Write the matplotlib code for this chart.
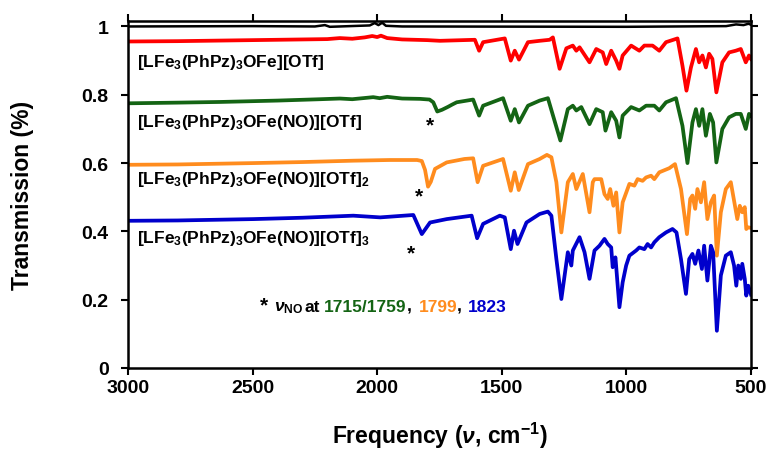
import matplotlib
matplotlib.use("Agg")
import matplotlib.pyplot as plt

plt.rcParams["font.family"] = ["Liberation Sans", "DejaVu Sans"]
plt.rcParams["font.weight"] = "bold"
plt.rcParams["mathtext.fontset"] = "custom"
plt.rcParams["mathtext.rm"] = "Liberation Sans:bold"
plt.rcParams["mathtext.bf"] = "Liberation Sans:bold"
plt.rcParams["mathtext.it"] = "Liberation Sans:italic:bold"
plt.rcParams["mathtext.default"] = "rm"

# spectra: wavenumber (cm-1) and transmission
black_v = [3000, 2500, 2250, 2210, 2190, 2030, 2010, 1995, 1980, 1965, 1900, 1000, 600, 560, 530, 510, 500]
black_t = [1.000, 1.001, 1.000, 1.004, 0.999, 1.003, 1.010, 1.004, 1.011, 1.002, 1.000, 0.999, 1.001, 1.006, 1.004, 1.008, 1.005]

red_v = [3000, 2800, 2600, 2400, 2200, 2150, 2100, 2050, 2020, 2000, 1985, 1960, 1900, 1800, 1748,
         1608, 1591, 1575, 1488, 1464, 1448, 1431, 1395, 1348, 1308, 1295, 1268, 1241, 1215, 1201,
         1188, 1148, 1121, 1095, 1081, 1061, 1041, 1028, 1015, 981, 948, 928, 895, 868, 841, 795,
         775, 759, 741, 721, 708, 695, 681, 668, 655, 639, 615, 588, 561, 541, 521, 508, 500]
red_t = [0.956, 0.957, 0.959, 0.961, 0.963, 0.966, 0.964, 0.968, 0.972, 0.969, 0.973, 0.966, 0.962, 0.960, 0.958,
         0.961, 0.929, 0.954, 0.965, 0.900, 0.929, 0.903, 0.954, 0.958, 0.961, 0.968, 0.876, 0.936, 0.944, 0.929,
         0.939, 0.895, 0.934, 0.924, 0.890, 0.929, 0.900, 0.876, 0.915, 0.944, 0.929, 0.944, 0.944, 0.929, 0.954, 0.965,
         0.885, 0.812, 0.880, 0.934, 0.895, 0.915, 0.880, 0.920, 0.905, 0.807, 0.895, 0.924, 0.929, 0.934, 0.895, 0.915, 0.905]

green_v = [3000, 2800, 2628, 2400, 2228, 2150, 2100, 2016, 1990, 1960, 1900, 1828, 1790, 1775, 1759, 1740, 1715,
           1700, 1681, 1615, 1591, 1575, 1495, 1464, 1448, 1431, 1395, 1348, 1315, 1265, 1235, 1215, 1201,
           1181, 1148, 1121, 1095, 1084, 1061, 1041, 1028, 1015, 981, 948, 921, 888, 868, 841, 801, 775,
           755, 735, 721, 708, 695, 681, 665, 652, 639, 615, 588, 561, 541, 521, 508, 500]
green_t = [0.775, 0.777, 0.779, 0.783, 0.787, 0.789, 0.787, 0.793, 0.790, 0.794, 0.789, 0.788, 0.786, 0.778, 0.751, 0.756, 0.765,
           0.771, 0.778, 0.786, 0.739, 0.768, 0.790, 0.724, 0.758, 0.719, 0.768, 0.783, 0.790, 0.666, 0.758, 0.768, 0.754,
           0.764, 0.714, 0.758, 0.749, 0.695, 0.749, 0.724, 0.675, 0.739, 0.764, 0.754, 0.768, 0.768, 0.754, 0.778, 0.790, 0.709,
           0.600, 0.719, 0.758, 0.709, 0.758, 0.680, 0.744, 0.719, 0.602, 0.700, 0.734, 0.744, 0.744, 0.700, 0.744, 0.738]

orange_v = [3000, 2800, 2496, 2300, 2096, 1950, 1840, 1821, 1808, 1796, 1785, 1768, 1721, 1650, 1615, 1597,
            1575, 1495, 1464, 1448, 1432, 1395, 1348, 1319, 1301, 1281, 1261, 1235, 1215, 1201, 1175, 1148,
            1135, 1128, 1101, 1088, 1075, 1065, 1052, 1041, 1028, 1015, 988, 968, 955, 935, 921, 901, 888,
            868, 828, 805, 781, 757, 744, 735, 724, 715, 701, 688, 675, 661, 648, 637, 621, 601, 581, 568,
            555, 545, 535, 525, 519, 511, 500]
orange_t = [0.595, 0.596, 0.600, 0.603, 0.607, 0.609, 0.609, 0.606, 0.580, 0.531, 0.545, 0.583, 0.602, 0.612, 0.614, 0.544,
            0.592, 0.612, 0.519, 0.573, 0.521, 0.597, 0.612, 0.624, 0.617, 0.544, 0.397, 0.544, 0.568, 0.524, 0.568, 0.456,
            0.544, 0.553, 0.553, 0.509, 0.495, 0.524, 0.475, 0.514, 0.397, 0.485, 0.539, 0.534, 0.553, 0.548, 0.558, 0.563, 0.553,
            0.573, 0.585, 0.597, 0.524, 0.392, 0.495, 0.505, 0.466, 0.524, 0.485, 0.544, 0.436, 0.485, 0.505, 0.329, 0.456, 0.524, 0.544, 0.490,
            0.436, 0.475, 0.456, 0.471, 0.407, 0.412, 0.410]

blue_v = [3000, 2800, 2496, 2300, 2096, 1988, 1855, 1821, 1788, 1721, 1621, 1599, 1575, 1508, 1488, 1464,
          1451, 1437, 1401, 1348, 1315, 1301, 1281, 1261, 1235, 1221, 1215, 1188, 1168, 1148, 1128, 1108,
          1088, 1075, 1061, 1055, 1044, 1028, 1015, 1001, 988, 961, 948, 928, 915, 901, 888, 868, 841,
          815, 799, 781, 761, 748, 735, 724, 711, 697, 688, 675, 661, 652, 637, 621, 601, 581, 568, 559,
          551, 541, 535, 525, 519, 511, 500]
blue_t = [0.431, 0.432, 0.436, 0.440, 0.446, 0.441, 0.448, 0.392, 0.426, 0.436, 0.446, 0.380, 0.422, 0.446, 0.441, 0.348,
          0.402, 0.363, 0.426, 0.451, 0.458, 0.446, 0.319, 0.202, 0.339, 0.300, 0.344, 0.383, 0.339, 0.261, 0.344, 0.358,
          0.378, 0.363, 0.353, 0.295, 0.324, 0.178, 0.251, 0.300, 0.329, 0.344, 0.353, 0.348, 0.363, 0.353, 0.368, 0.383, 0.397,
          0.407, 0.397, 0.319, 0.217, 0.319, 0.334, 0.305, 0.344, 0.290, 0.358, 0.256, 0.358, 0.339, 0.109, 0.271, 0.329, 0.339, 0.300, 0.241,
          0.300, 0.261, 0.305, 0.261, 0.212, 0.241, 0.215]

labels = [r"[LFe$_3$(PhPz)$_3$OFe][OTf]",
          r"[LFe$_3$(PhPz)$_3$OFe(NO)][OTf]",
          r"[LFe$_3$(PhPz)$_3$OFe(NO)][OTf]$_2$",
          r"[LFe$_3$(PhPz)$_3$OFe(NO)][OTf]$_3$"]
label_y = [0.884, 0.708, 0.542, 0.368]
star_pos = [(1788, 0.697), (1832, 0.487), (1864, 0.321)]

RED = "#ff0000"
GREEN = "#146414"
ORANGE = "#ff8c1e"
BLUE = "#0000cc"

fig = plt.figure(figsize=(7.68, 4.52), dpi=100)
ax = fig.add_axes([128 / 768, 1 - 369 / 452, 623 / 768, 347 / 452])

ax.plot(black_v, black_t, color="black", lw=1.8)
ax.plot(red_v, red_t, color=RED, lw=2.7)
ax.plot(green_v, green_t, color=GREEN, lw=2.7)
ax.plot(orange_v, orange_t, color=ORANGE, lw=2.7)
ax.plot(blue_v, blue_t, color=BLUE, lw=2.7)

ax.set_xlim(3000, 500)
ax.set_ylim(0, 1.016)
ax.set_xticks([3000, 2500, 2000, 1500, 1000, 500])
ax.set_yticks([0, 0.2, 0.4, 0.6, 0.8, 1.0])
ax.set_yticklabels(["0", "0.2", "0.4", "0.6", "0.8", "1"])
ax.tick_params(direction="out", length=5, width=1.5, top=True, right=True,
               labelsize=14, pad=3)
ax.tick_params(axis="y", pad=9)
for s in ax.spines.values():
    s.set_linewidth(1.8)

for lab, y in zip(labels, label_y):
    ax.text(2963, y, lab, fontsize=12.5, ha="left", va="baseline")
for x, y in star_pos:
    ax.text(x, y, "*", fontsize=15, ha="center", va="baseline")

# footnote on the NO stretches
ty = 0.168
ax.text(2470, ty, "*", fontsize=15, va="baseline")
ax.text(2416, ty, r"$\mathit{\nu}_{\mathrm{NO}}$", fontsize=12.5, va="baseline")
ax.text(2292, ty, "at", fontsize=12.5, va="baseline")
ax.text(2212, ty, "1715/1759", fontsize=12.5, va="baseline", color=GREEN)
ax.text(1880, ty, ",", fontsize=12.5, va="baseline")
ax.text(1834, ty, "1799", fontsize=12.5, va="baseline", color=ORANGE)
ax.text(1682, ty, ",", fontsize=12.5, va="baseline")
ax.text(1636, ty, "1823", fontsize=12.5, va="baseline", color=BLUE)

fig.text(23 / 768, 1 - 195 / 452, "Transmission (%)", rotation=90, fontsize=16.5,
         ha="center", va="center")
fig.text(440 / 768, 1 - 436 / 452, r"Frequency ($\mathit{\nu}$, cm$^{-1}$)", fontsize=16.5,
         ha="center", va="center")

fig.savefig("out.png", dpi=100)
